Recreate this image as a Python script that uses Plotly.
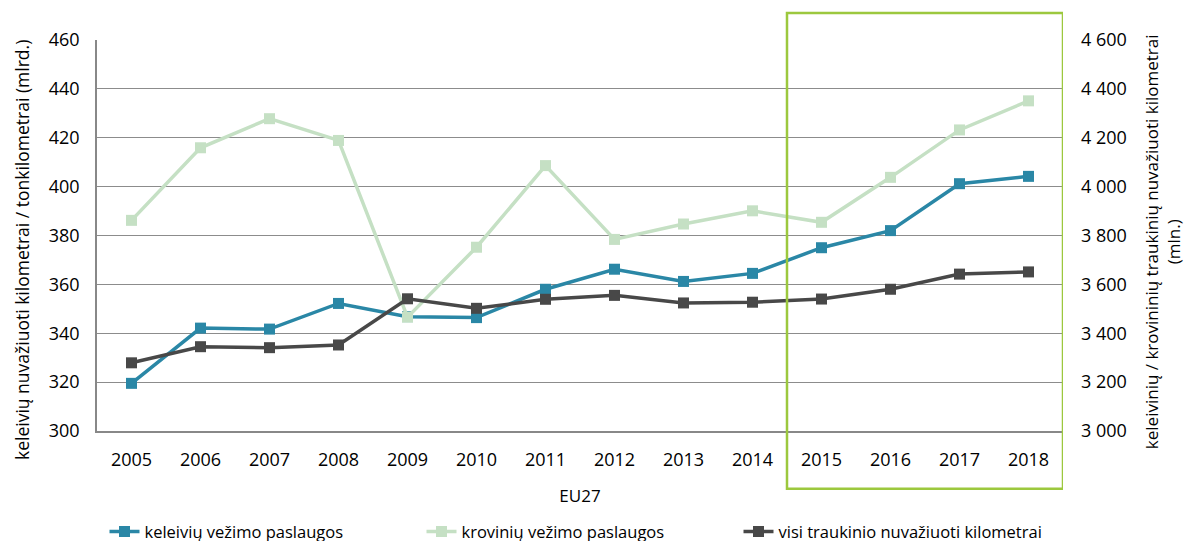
import plotly.graph_objects as go

# Data
years = ['2005', '2006', '2007', '2008', '2009', '2010', '2011',
         '2012', '2013', '2014', '2015', '2016', '2017', '2018']

# passenger-km, bn (left axis)
keleiviu = [319.5, 342.1, 341.7, 352.2, 346.8, 346.4, 358.0,
            366.2, 361.2, 364.5, 375.0, 382.0, 401.2, 404.2]
# tonne-km, bn (left axis)
kroviniu = [386.2, 415.9, 427.8, 418.9, 346.6, 375.2, 408.6,
            378.4, 384.7, 390.1, 385.4, 403.8, 423.2, 435.1]
# train-km, mln (right axis)
traukinio = [3279, 3345, 3341, 3352, 3541, 3502, 3539,
             3555, 3524, 3527, 3540, 3580, 3642, 3651]

right_ticks = [3000, 3200, 3400, 3600, 3800, 4000, 4200, 4400, 4600]
right_labels = ['3 000', '3 200', '3 400', '3 600', '3 800',
                '4 000', '4 200', '4 400', '4 600']

left_title = 'keleivių nuvažiuoti kilometrai / tonkilometrai (mlrd.)'
right_title = 'keleivinių / krovininių traukinių nuvažiuoti kilometrai<br>(mln.)'

blue = '#2A87A6'
light = '#C5E0C4'
dark = '#484848'

fig = go.Figure()

fig.add_trace(go.Scatter(
    x=years, y=keleiviu, name='keleivių vežimo paslaugos',
    mode='lines+markers', line=dict(color=blue, width=3.5),
    marker=dict(symbol='square', size=11, color=blue)
))
fig.add_trace(go.Scatter(
    x=years, y=kroviniu, name='krovinių vežimo paslaugos',
    mode='lines+markers', line=dict(color=light, width=3.5),
    marker=dict(symbol='square', size=11, color=light)
))
fig.add_trace(go.Scatter(
    x=years, y=traukinio, name='visi traukinio nuvažiuoti kilometrai',
    mode='lines+markers', line=dict(color=dark, width=3.5),
    marker=dict(symbol='square', size=11, color=dark), yaxis='y2'
))

# highlight box around 2015-2018
fig.add_shape(type='rect', xref='x', yref='paper',
              x0=9.5, x1=13.5, y0=-0.148, y1=1.069,
              line=dict(color='#9CC83E', width=2.5), layer='above')

# axis titles as rotated annotations (they sit a bit below the plot centre)
fig.add_annotation(text=left_title, xref='paper', yref='paper',
                   x=-0.0776, y=0.463, xanchor='center', yanchor='middle',
                   textangle=-90, showarrow=False, font=dict(size=17.5))
fig.add_annotation(text=right_title, xref='paper', yref='paper',
                   x=1.1025, y=0.483, xanchor='center', yanchor='middle',
                   textangle=-90, showarrow=False, font=dict(size=17))

# page body has an 8px margin: keep the figure inside the window
fig.update_layout(
    width=1177, height=533,
    margin=dict(l=89, r=122, t=32, b=110, autoexpand=False),
    plot_bgcolor='white', paper_bgcolor='white',
    font=dict(family='Open Sans', size=17, color='#000000'),
    showlegend=True,
    legend=dict(orientation='h', x=0.5, xanchor='center', y=-0.258,
                yanchor='middle', font=dict(size=16.5), itemwidth=30,
                entrywidth=272),
    xaxis=dict(
        type='category', showgrid=False, showline=True, automargin=False,
        linecolor='#888888', linewidth=1.5, ticks='', ticklabelstandoff=12,
        title=dict(text='EU27', font=dict(size=17), standoff=20),
        tickfont=dict(size=18), range=[-0.5, 13.5]
    ),
    yaxis=dict(
        range=[300, 460], dtick=20, showgrid=True, gridcolor='#8C8C8C',
        gridwidth=1.3, showline=True, linecolor='#888888', linewidth=1.5,
        zeroline=False, ticks='', tickfont=dict(size=18), automargin=False,
        ticklabelstandoff=12
    ),
    yaxis2=dict(
        overlaying='y', side='right', range=[3000, 4600], automargin=False,
        tickvals=right_ticks, ticktext=right_labels, showgrid=False,
        zeroline=False, ticks='', tickfont=dict(size=18), ticklabelstandoff=17
    )
)

fig.write_html('out.html')
